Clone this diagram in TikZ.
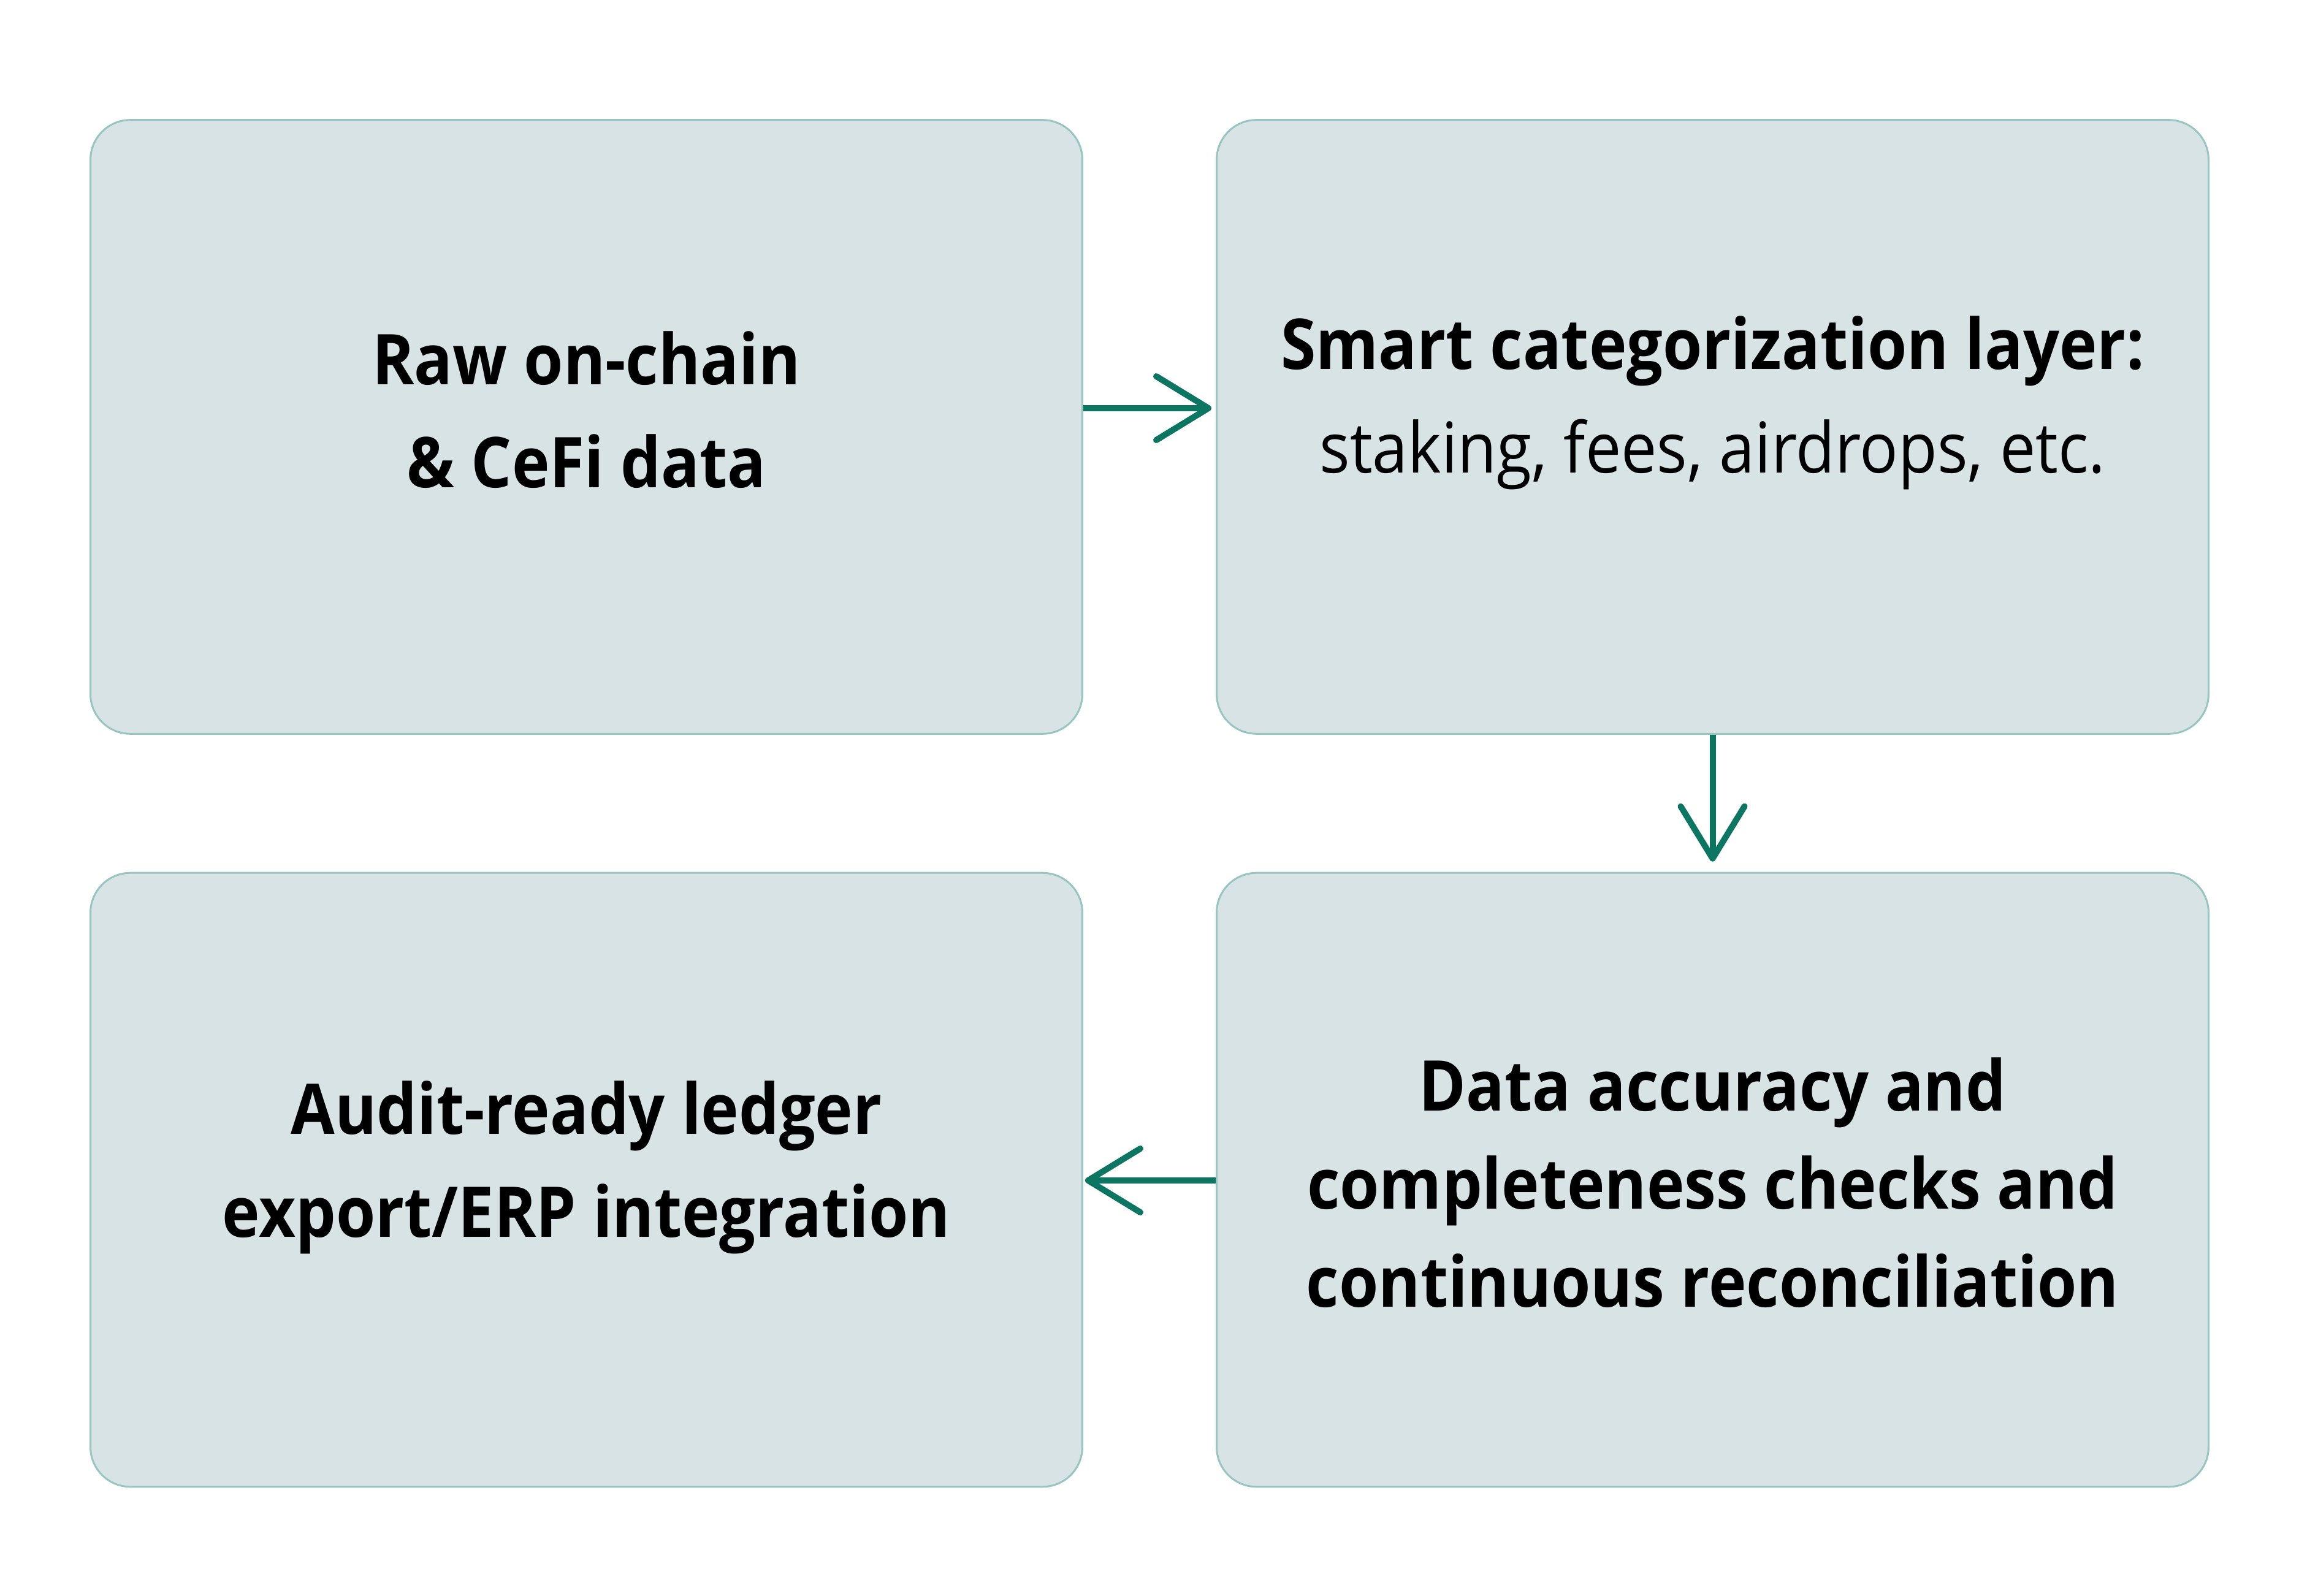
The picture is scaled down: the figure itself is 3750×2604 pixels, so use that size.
\documentclass[tikz,border=0pt]{standalone}
\usepackage{fontspec}
\setmainfont{Open Sans}[FakeStretch=0.91]
\usetikzlibrary{arrows.meta}
\definecolor{boxfill}{RGB}{216,227,229}
\definecolor{boxline}{RGB}{152,196,193}
\definecolor{arrowcol}{RGB}{13,118,99}
\tikzset{
  card/.style={draw=boxline, fill=boxfill, line width=0.03cm, rounded corners=0.65cm, inner sep=0pt},
  txtb/.style={anchor=base, inner sep=0pt, font=\fontsize{32.5}{39}\selectfont\bfseries},
  txtr/.style={anchor=base, inner sep=0pt, font=\fontsize{32.5}{39}\selectfont},
  flow/.style={draw=arrowcol, line width=0.1cm, -{Straight Barb[length=0.85cm, width=1.04cm, line width=0.1cm, round]}},
}
\begin{document}
\begin{tikzpicture}[x=0.01cm, y=-0.01cm]
\useasboundingbox[fill=white] (0,0) rectangle (3750,2604);
\node[card, minimum width=16.17cm, minimum height=10.01cm] (A) at (956.5,696.5) {};
\node[card, minimum width=16.17cm, minimum height=10.01cm] (B) at (2793.5,696.5) {};
\node[card, minimum width=16.17cm, minimum height=10.01cm] (C) at (2793.5,1925) {};
\node[card, minimum width=16.17cm, minimum height=10.01cm] (D) at (956.5,1925) {};
\node[txtb] (a1) at (956.5,628) {Raw on-chain};
\node[txtb] (a2) at (956.5,796) {\& CeFi data};
\node[txtb] (b1) at (2793.5,603) {Smart categorization layer:};
\node[txtr] (b2) at (2793.5,772) {staking, fees, airdrops, etc.};
\node[txtb] (c1) at (2793.5,1812) {Data accuracy and};
\node[txtb] (c2) at (2793.5,1972) {completeness checks and};
\node[txtb] (c3) at (2793.5,2132) {continuous reconciliation};
\node[txtb] (d1) at (956.5,1850) {Audit-ready ledger};
\node[txtb] (d2) at (956.5,2018) {export/ERP integration};
\draw[flow, shorten >=0.07cm] (A.east |- 0,666) -- (B.west |- 0,666);
\draw[flow, shorten >=0.17cm] (B.south) -- (C.north);
\draw[flow, shorten >=0.03cm] (C.west |- 0,1926) -- (D.east |- 0,1926);
\end{tikzpicture}
\end{document}
